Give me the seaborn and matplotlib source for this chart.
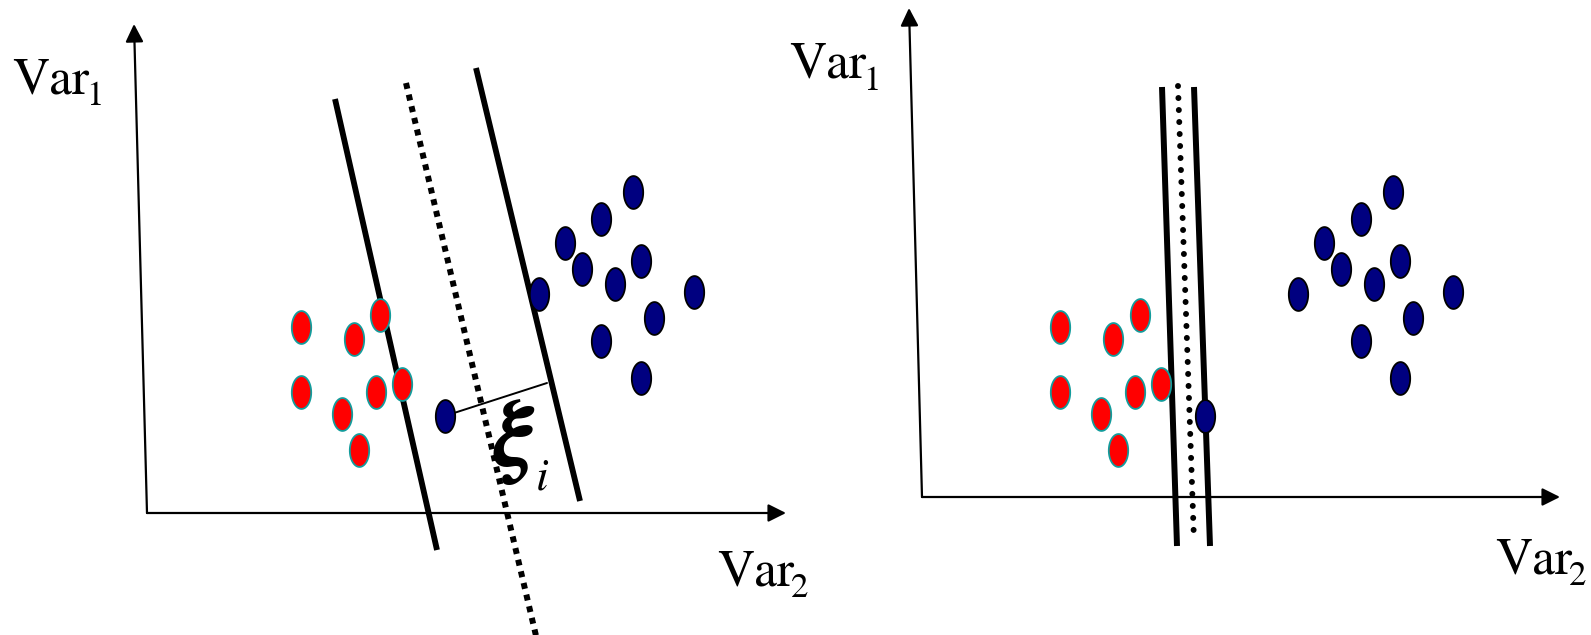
import numpy as np
import pandas as pd
import matplotlib
matplotlib.use("Agg")
import matplotlib.pyplot as plt
from matplotlib.path import Path
from matplotlib.markers import MarkerStyle
import seaborn as sns

# Point positions (pixel space of the picture), two panels share the same clusters
red_x_left = [301, 354, 380, 301, 342, 376, 402, 359]
red_y = [327, 339, 315, 392, 414, 392, 384, 450]
blue_x_left = [633, 601, 565, 582, 615, 641, 539, 694, 654, 601, 641, 445]
blue_y = [192, 219, 243, 269, 284, 261, 294, 292, 318, 341, 378, 416]
red_x_right = [1060, 1113, 1140, 1060, 1101, 1135, 1161, 1118]
blue_x_right = [1393, 1361, 1324, 1341, 1374, 1400, 1298, 1453, 1413, 1361, 1400, 1205]

# Margin / boundary lines: (x0, x1), (y0, y1)
left_margin_lo = ([335, 437], [99, 550])
left_boundary = ([406, 537], [83, 640])
left_margin_hi = ([476, 580], [68, 501])
right_margin_lo = ([1162, 1177], [87, 546])
right_boundary = ([1178, 1194], [86, 541])
right_margin_hi = ([1194, 1210], [87, 546])
slack_x = [454, 547]
slack_y = [413, 383]

# Axes arrows: origin, x tip, y tip
left_axes = {"origin": (147, 513), "xtip": (786, 513), "ytip": (134, 24)}
right_axes = {"origin": (922, 497), "xtip": (1560, 497), "ytip": (909, 8)}

# Axis labels: (x, baseline, subscript)
labels = [(12, 93, "1"), (717, 585, "2"), (789, 78, "1"), (1495, 573, "2")]

sns.set_style("white")
plt.rcParams["mathtext.fontset"] = "stix"
plt.rcParams["font.family"] = ["STIXGeneral", "DejaVu Serif"]

fig = plt.figure(figsize=(15.91, 6.35), dpi=100)
ax = fig.add_axes([0, 0, 1, 1])
ax.set_xlim(0, 1591)
ax.set_ylim(635, 0)
ax.axis("off")

# axes with arrow heads
for a in (left_axes, right_axes):
    for tip in ("xtip", "ytip"):
        ax.annotate("", xy=a[tip], xytext=a["origin"],
                    arrowprops=dict(arrowstyle="-|>,head_length=0.4,head_width=0.2",
                                    mutation_scale=27, lw=1.6, color="black",
                                    shrinkA=0, shrinkB=0))

# margins and boundaries
for xs, ys in (left_margin_lo, left_margin_hi):
    ax.plot(xs, ys, color="black", lw=4.2, solid_capstyle="butt")
ax.plot(*left_boundary, color="black", lw=4.3, linestyle=(0, (1, 1)),
        dash_capstyle="butt")
for xs, ys in (right_margin_lo, right_margin_hi):
    ax.plot(xs, ys, color="black", lw=4.3, solid_capstyle="butt")
ax.plot(*right_boundary, color="black", lw=4.3, linestyle=(0, (0.01, 2)),
        dash_capstyle="round")
ax.plot(slack_x, slack_y, color="black", lw=1.4)

# elliptical marker
t = np.linspace(0, 2 * np.pi, 60)
ell = MarkerStyle(Path(np.column_stack([0.59 * np.cos(t), np.sin(t)]), closed=True))

df_red = pd.DataFrame({"x": red_x_left + red_x_right, "y": red_y + red_y})
df_blue = pd.DataFrame({"x": blue_x_left + blue_x_right, "y": blue_y + blue_y})
sns.scatterplot(data=df_red, x="x", y="y", marker=ell, s=560, color="#FF0000",
                edgecolor="#139c9c", linewidth=1.3, ax=ax, zorder=5)
sns.scatterplot(data=df_blue, x="x", y="y", marker=ell, s=560, color="#000080",
                edgecolor="black", linewidth=1.3, ax=ax, zorder=5)

# labels
for x, y, sub in labels:
    main = ax.text(x, y, "Var", color="black", va="baseline", ha="left",
                   fontsize=37)
    ax.annotate(sub, xy=(1, 0), xycoords=main, xytext=(-2, -1),
                textcoords="offset points", va="baseline", ha="left",
                fontsize=25, color="black")

ax.text(493, 466, "\u03be", color="black", va="baseline", ha="left",
        fontsize=68, fontweight="bold", fontstyle="italic")
ax.text(536, 490, "i", color="black", va="baseline", ha="left", fontsize=33,
        fontstyle="italic")

fig.savefig("out.png", dpi=100)
